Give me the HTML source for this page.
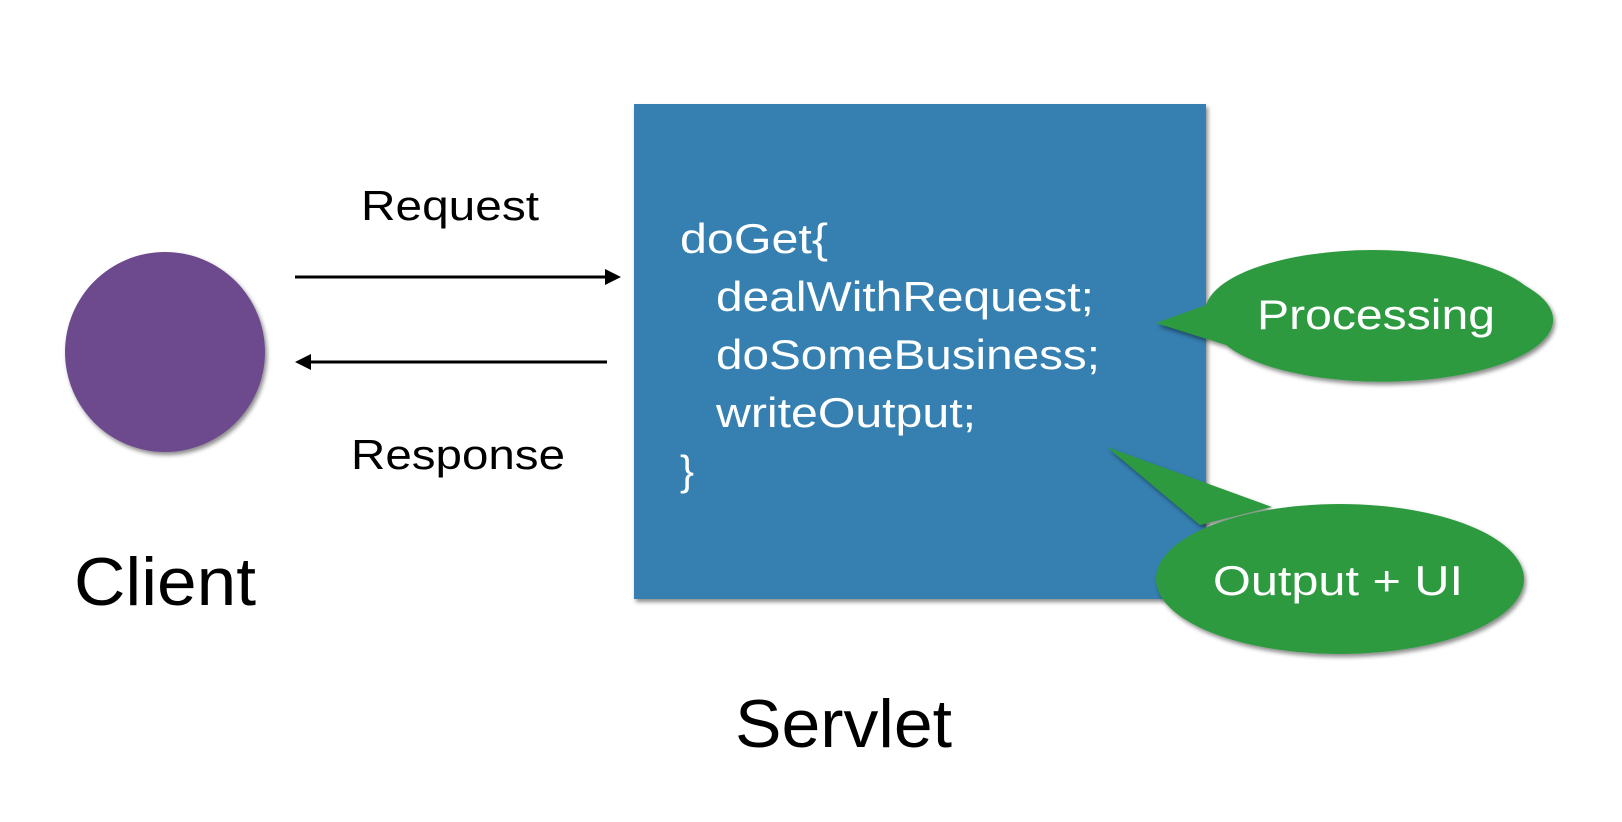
<!DOCTYPE html>
<html><head><style>
html,body{margin:0;padding:0;background:#fff;}
svg{display:block;}
text{font-family:"Liberation Sans",sans-serif;}
</style></head><body>
<svg width="1622" height="822" viewBox="0 0 1622 822" xmlns="http://www.w3.org/2000/svg">
<defs>
<filter id="sh" x="-20%" y="-20%" width="140%" height="140%"><feDropShadow dx="2" dy="3" stdDeviation="2" flood-color="#000" flood-opacity="0.45"/></filter>
</defs>
<circle cx="165" cy="352" r="100" fill="#6d4a8d" filter="url(#sh)"/>
<rect x="634" y="104" width="572" height="495" fill="#3580b1" filter="url(#sh)"/>
<text x="361" y="220" font-size="42" fill="#000" textLength="178" lengthAdjust="spacingAndGlyphs">Request</text>
<text x="351" y="469" font-size="42" fill="#000" textLength="214" lengthAdjust="spacingAndGlyphs">Response</text>
<text x="74" y="605" font-size="68" fill="#000" textLength="182" lengthAdjust="spacingAndGlyphs">Client</text>
<text x="735" y="747" font-size="68" fill="#000" textLength="217" lengthAdjust="spacingAndGlyphs">Servlet</text>
<line x1="295" y1="277" x2="610" y2="277" stroke="#000" stroke-width="3"/>
<polygon points="621,277 605,269 605,285" fill="#000"/>
<line x1="305" y1="362" x2="607" y2="362" stroke="#000" stroke-width="3"/>
<polygon points="295,362 311,354 311,370" fill="#000"/>
<g fill="#fff" font-size="42">
<text x="680" y="253" textLength="148" lengthAdjust="spacingAndGlyphs">doGet{</text>
<text x="716" y="311" textLength="378" lengthAdjust="spacingAndGlyphs">dealWithRequest;</text>
<text x="716" y="369" textLength="384" lengthAdjust="spacingAndGlyphs">doSomeBusiness;</text>
<text x="716" y="427" textLength="260" lengthAdjust="spacingAndGlyphs">writeOutput;</text>
<text x="680" y="485">}</text>
</g>
<g fill="#2e9a41" filter="url(#sh)">
<path d="M1156,323 L1220,300 A171,62 0 1 1 1226,345 Z"/>
<ellipse cx="1373" cy="312" rx="168" ry="62"/>
</g>
<g fill="#2e9a41" filter="url(#sh)">
<path d="M1107,447 L1272,507 L1200,525 Z"/>
<ellipse cx="1340" cy="579" rx="184" ry="75"/>
</g>
<text x="1257" y="329" font-size="42" fill="#fff" textLength="238" lengthAdjust="spacingAndGlyphs">Processing</text>
<text x="1213" y="595" font-size="42" fill="#fff" textLength="250" lengthAdjust="spacingAndGlyphs">Output + UI</text>
</svg>
</body></html>
